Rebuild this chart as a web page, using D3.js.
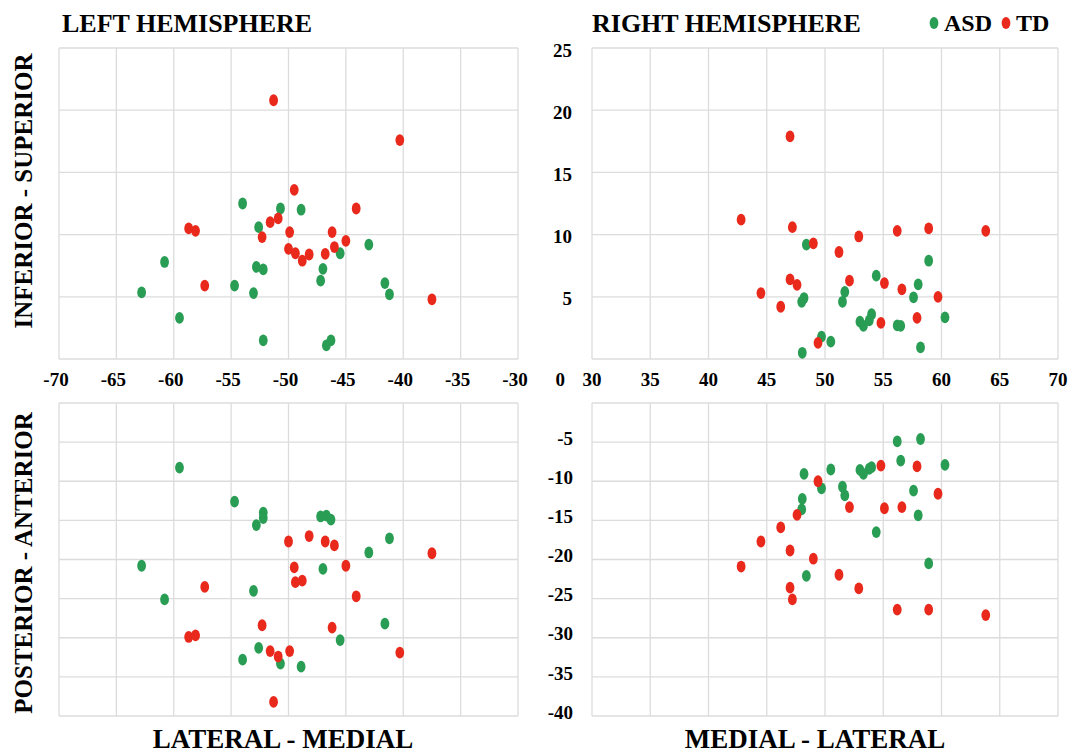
<!DOCTYPE html>
<html><head><meta charset="utf-8">
<script src="https://cdn.jsdelivr.net/npm/d3@7"></script>
<style>
body{margin:0;background:#fff}
text{font-family:"Liberation Serif","Times New Roman",serif;font-weight:bold;fill:#000}
</style>
</head><body><svg id="c" width="1073" height="755"></svg>
<script>
// ---- DATA ----
const groups = ["ASD", "TD"];
const groupColors = ["#2a9d55", "#e8291c"];
const panelTitles = ["LEFT HEMISPHERE", "RIGHT HEMISPHERE"];
const xTitles = ["LATERAL - MEDIAL", "MEDIAL - LATERAL"];
const yTitles = ["INFERIOR - SUPERIOR", "POSTERIOR - ANTERIOR"];
const xTicksLeft = [-70, -65, -60, -55, -50, -45, -40, -35, -30];
const xTicksRight = [30, 35, 40, 45, 50, 55, 60, 65, 70];
const yTicksTop = [0, 5, 10, 15, 20, 25];
const yTicksBottom = [-40, -35, -30, -25, -20, -15, -10, -5, 0];

// Left hemisphere, ASD
const leftX_ASD  = [-54.0, -50.7, -48.9, -52.6, -43.0, -45.5, -60.8, -52.8, -52.2, -47.0, -47.2, -54.7, -62.8, -53.05, -41.6, -41.2, -59.5, -52.2, -46.3, -46.7];
const leftSI_ASD = [12.5, 12.1, 12.0, 10.6, 9.2, 8.5, 7.8, 7.4, 7.2, 7.25, 6.3, 5.9, 5.35, 5.3, 6.1, 5.2, 3.3, 1.5, 1.5, 1.1];
const leftPA_ASD = [-32.8, -33.3, -33.7, -31.3, -19.1, -30.3, -25.1, -15.6, -14.0, -21.2, -14.5, -12.6, -20.8, -24.0, -28.2, -17.3, -8.25, -14.7, -14.9, -14.4];
// Left hemisphere, TD
const leftX_TD  = [-51.3, -40.3, -49.5, -44.1, -58.7, -58.1, -51.6, -50.9, -52.3, -49.9, -46.2, -45.0, -50.0, -49.4, -48.2, -48.8, -46.0, -46.8, -57.3, -37.5];
const leftSI_TD = [20.8, 17.6, 13.6, 12.1, 10.5, 10.3, 11.0, 11.3, 9.8, 10.2, 10.2, 9.5, 8.85, 8.5, 8.4, 7.9, 9.0, 8.45, 5.9, 4.8];
const leftPA_TD = [-38.2, -31.9, -21.0, -24.7, -29.9, -29.7, -31.7, -32.4, -28.4, -31.7, -28.7, -20.8, -17.7, -22.9, -17.0, -22.7, -18.2, -17.7, -23.5, -19.2];
// Right hemisphere, ASD
const rightX_ASD  = [48.4, 58.9, 54.4, 58.0, 51.7, 51.5, 57.6, 48.2, 48.0, 48.05, 54.0, 53.8, 53.0, 53.3, 56.5, 56.2, 60.3, 49.7, 50.5, 58.2];
const rightSI_ASD = [9.2, 7.9, 6.7, 6.0, 5.4, 4.6, 4.96, 4.9, 4.6, 0.5, 3.6, 3.1, 3.0, 2.66, 2.66, 2.7, 3.35, 1.8, 1.4, 0.93];
const rightPA_ASD = [-22.1, -20.5, -16.5, -14.35, -11.8, -10.7, -11.2, -9.06, -13.6, -12.25, -8.2, -8.4, -8.55, -9.06, -7.36, -4.9, -7.9, -10.9, -8.5, -4.6];
// Right hemisphere, TD
const rightX_TD  = [42.8, 44.5, 46.2, 47.0, 47.0, 47.2, 47.6, 49.0, 49.4, 51.2, 52.1, 52.9, 54.8, 55.1, 56.2, 56.6, 57.9, 58.9, 59.7, 63.8];
const rightSI_TD = [11.2, 5.3, 4.2, 17.9, 6.4, 10.6, 5.96, 9.3, 1.3, 8.6, 6.3, 9.85, 2.9, 6.1, 10.3, 5.6, 3.3, 10.5, 5.0, 10.3];
const rightPA_TD = [-20.9, -17.7, -15.9, -18.85, -23.6, -25.1, -14.3, -19.9, -10.0, -21.95, -13.3, -23.7, -8.0, -13.45, -26.4, -13.3, -8.1, -26.4, -11.6, -27.1];

// ---- DRAW ----
const svg = d3.select('#c');
const xL = d3.scaleLinear().domain([-70, -30]).range([59, 518]);
const xR = d3.scaleLinear().domain([30, 70]).range([592, 1058]);
const yT = d3.scaleLinear().domain([0, 25]).range([359, 48]);
const yB = d3.scaleLinear().domain([-40, 0]).range([716, 403]);
const gridColor = "#dcdcdc";

function grid(xs, ys, xt, yt) {
  const g = svg.append('g');
  g.selectAll('line.v').data(xt).join('line')
    .attr('x1', d => xs(d)).attr('x2', d => xs(d))
    .attr('y1', ys.range()[0]).attr('y2', ys.range()[1])
    .attr('stroke', gridColor).attr('stroke-width', 1.3);
  g.selectAll('line.h').data(yt).join('line')
    .attr('y1', d => ys(d)).attr('y2', d => ys(d))
    .attr('x1', xs.range()[0]).attr('x2', xs.range()[1])
    .attr('stroke', gridColor).attr('stroke-width', 1.3);
}
grid(xL, yT, xTicksLeft, yTicksTop);
grid(xR, yT, xTicksRight, yTicksTop);
grid(xL, yB, xTicksLeft, yTicksBottom);
grid(xR, yB, xTicksRight, yTicksBottom);

function dots(xs, ys, xv, yv, color) {
  svg.append('g').selectAll('ellipse').data(xv.map((x, i) => [x, yv[i]])).join('ellipse')
    .attr('cx', d => xs(d[0])).attr('cy', d => ys(d[1]))
    .attr('rx', 4.4).attr('ry', 5.9).attr('fill', color);
}
dots(xL, yT, leftX_ASD, leftSI_ASD, groupColors[0]);
dots(xL, yT, leftX_TD, leftSI_TD, groupColors[1]);
dots(xR, yT, rightX_ASD, rightSI_ASD, groupColors[0]);
dots(xR, yT, rightX_TD, rightSI_TD, groupColors[1]);
dots(xL, yB, leftX_ASD, leftPA_ASD, groupColors[0]);
dots(xL, yB, leftX_TD, leftPA_TD, groupColors[1]);
dots(xR, yB, rightX_ASD, rightPA_ASD, groupColors[0]);
dots(xR, yB, rightX_TD, rightPA_TD, groupColors[1]);

const tickFont = 19;
// x tick labels (top row only)
svg.append('g').selectAll('text').data(xTicksLeft).join('text')
  .attr('x', d => xL(d) - 3).attr('y', yT(0) + 27)
  .attr('text-anchor', 'middle').attr('font-size', tickFont).text(d => String(d));
svg.append('g').selectAll('text').data(xTicksRight).join('text')
  .attr('x', d => xR(d)).attr('y', yT(0) + 27)
  .attr('text-anchor', 'middle').attr('font-size', tickFont).text(d => String(d));
// y tick labels (right panels' left side)
svg.append('g').selectAll('text').data(yTicksTop.filter(d => d > 0)).join('text')
  .attr('x', xR.range()[0] - 20).attr('y', d => yT(d) + 2).attr('dy', '0.35em')
  .attr('text-anchor', 'end').attr('font-size', tickFont).text(d => String(d));
svg.append('text').attr('x', xR.range()[0] - 27).attr('y', yT(0) + 27)
  .attr('text-anchor', 'end').attr('font-size', tickFont).text('0');
svg.append('g').selectAll('text').data(yTicksBottom.filter(d => d < 0)).join('text')
  .attr('x', xR.range()[0] - 19).attr('y', d => yB(d) - 4).attr('dy', '0.35em')
  .attr('text-anchor', 'end').attr('font-size', tickFont).text(d => String(d));

// Titles
svg.append('text').attr('x', 62).attr('y', 32).attr('font-size', 26).text(panelTitles[0]);
svg.append('text').attr('x', 592).attr('y', 32).attr('font-size', 26).text(panelTitles[1]);
svg.append('text').attr('x', 283).attr('y', 748).attr('text-anchor', 'middle').attr('font-size', 27).text(xTitles[0]);
svg.append('text').attr('x', 815).attr('y', 748).attr('text-anchor', 'middle').attr('font-size', 27).text(xTitles[1]);
svg.append('text').attr('transform', 'translate(32,191) rotate(-90)').attr('text-anchor', 'middle').attr('font-size', 25).text(yTitles[0]);
svg.append('text').attr('transform', 'translate(32,563) rotate(-90)').attr('text-anchor', 'middle').attr('font-size', 25).text(yTitles[1]);

// Legend
const legX = [934, 1006];
groups.forEach((gname, i) => {
  svg.append('ellipse').attr('cx', legX[i]).attr('cy', 23).attr('rx', 4.4).attr('ry', 5.9).attr('fill', groupColors[i]);
  svg.append('text').attr('x', legX[i] + 10).attr('y', 31).attr('font-size', 24).text(gname);
});
</script>
</body></html>
